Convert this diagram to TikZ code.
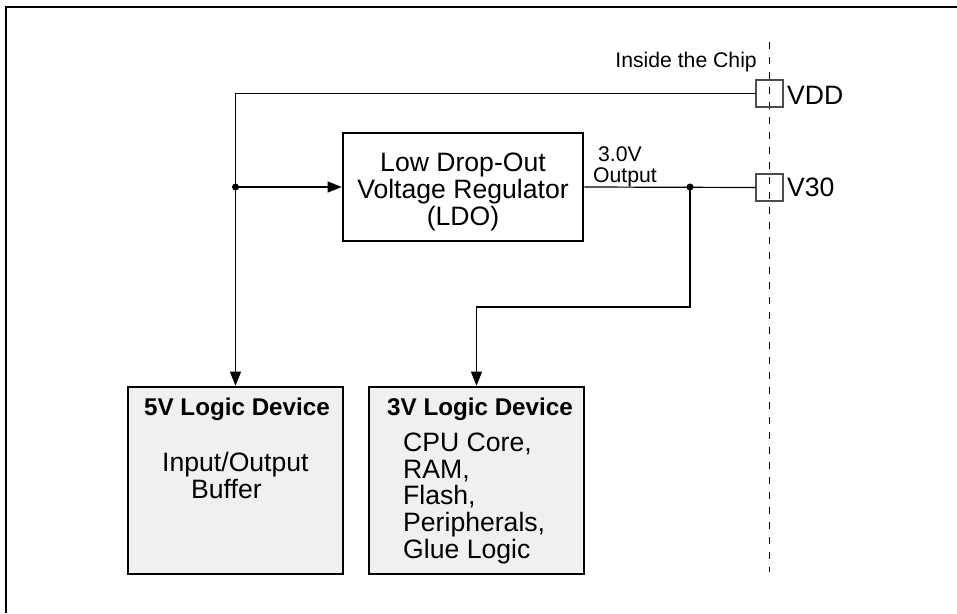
\documentclass[tikz,border=0pt]{standalone}
\usepackage{fontspec}
\setmainfont{Liberation Sans}
\usetikzlibrary{arrows.meta}
\definecolor{boxgray}{HTML}{F0F0F0}
\tikzset{
  wire/.style={line width=1.2pt, draw=black},
  arr/.style={wire, -{Triangle[length=14pt,width=11pt]}},
  blockbox/.style={draw=black, line width=2.6pt, inner sep=0pt},
  devbox/.style={blockbox, fill=boxgray},
  pad/.style={draw=black!70, line width=1.3pt, minimum width=27pt, minimum height=27pt, inner sep=0pt},
  dot/.style={circle, fill=black, inner sep=0pt, minimum size=7pt},
  big/.style={font=\fontsize{26.6}{28}\selectfont, inner sep=0pt},
  bigbold/.style={font=\fontsize{24.2}{26}\selectfont\bfseries, inner sep=0pt},
  small/.style={font=\fontsize{21.2}{23}\selectfont, inner sep=0pt},
}
\begin{document}
\begin{tikzpicture}[x=1pt,y=-1pt]
\useasboundingbox (0,0) rectangle (957,613);
% frame
\draw[line width=2.6pt] (6,613) -- (6,7) -- (957,7);
% chip boundary
\draw[line width=1.1pt, dash pattern=on 7pt off 8pt] (769.5,42) -- (769.5,572);
\node[small, anchor=base east] (inside) at (757,67) {Inside the Chip};
% pads
\node[pad] (vdd) at (769.5,93.5) {};
\node[pad] (v30) at (769.5,187.5) {};
\node[big, anchor=base west] (vddl) at (787,104) {VDD};
\node[big, anchor=base west] (v30l) at (787,196) {V30};
% LDO
\node[blockbox, minimum width=240pt, minimum height=108pt] (ldo) at (463,187) {};
\node[big, anchor=base] (ldo1) at (463,171) {Low Drop-Out};
\node[big, anchor=base] (ldo2) at (463,198) {Voltage Regulator};
\node[big, anchor=base] (ldo3) at (463,225) {(LDO)};
\node[small, anchor=base west] (out1) at (598,161.5) {3.0V};
\node[small, anchor=base west] (out2) at (593,182) {Output};
% devices
\node[devbox, minimum width=215pt, minimum height=187pt] (b5) at (235.5,480.5) {};
\node[devbox, minimum width=215pt, minimum height=187pt] (b3) at (476.5,480.5) {};
\node[bigbold, anchor=base] (t5) at (237,415) {5V Logic Device};
\node[big, anchor=base west] (io1) at (162,471.5) {Input/Output};
\node[big, anchor=base west] (io2) at (191,498) {Buffer};
\node[bigbold, anchor=base west] (t3) at (387,415) {3V Logic Device};
\node[big, anchor=base west] (c1) at (403,451.5) {CPU Core,};
\node[big, anchor=base west] (c2) at (403,478.2) {RAM,};
\node[big, anchor=base west] (c3) at (403,504.9) {Flash,};
\node[big, anchor=base west] (c4) at (403,531.6) {Peripherals,};
\node[big, anchor=base west] (c5) at (403,558.3) {Glue Logic};
% junctions
\coordinate (j1) at (235.5,187);
\coordinate (j2) at (690,187);
\coordinate (k) at (690,307);
% connectors
\draw[arr] (vdd.west) -| (b5.north);
\draw[arr] (j1) -- (ldo.west);
\draw[wire] (ldo.east) -- (v30.west);
\draw[arr] (j2) -- (k) -| (b3.north);
\node[dot] (d1) at (j1) {};
\node[dot] (d2) at (j2) {};
\end{tikzpicture}
\end{document}
